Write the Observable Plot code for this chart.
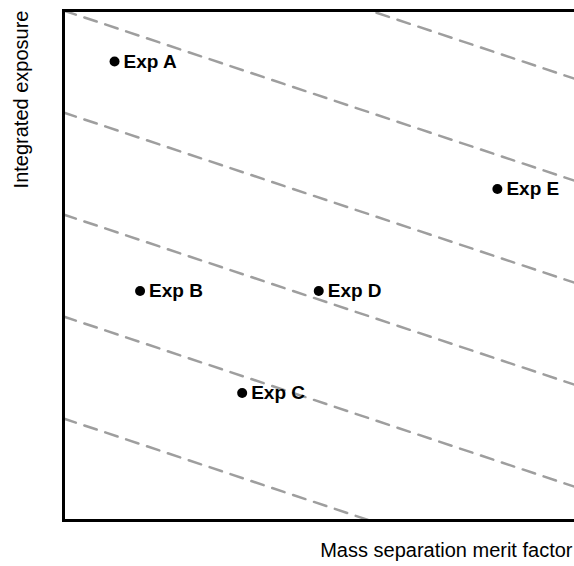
<!DOCTYPE html>
<html>
<head>
<meta charset="utf-8">
<script src="https://cdn.jsdelivr.net/npm/d3@7"></script>
<script src="https://cdn.jsdelivr.net/npm/@observablehq/plot@0.6"></script>
<style>
  html, body { margin: 0; padding: 0; overflow: hidden; background: white; }
  #chart { width: 599px; }
  #chart svg { max-width: none !important; width: 599px !important; height: 566px !important; }
</style>
</head>
<body>
<div id="chart"></div>
<script>
// Experiments (merit factor vs integrated exposure, arbitrary units)
const experiments = ["Exp A", "Exp B", "Exp C", "Exp D", "Exp E"];
const meritFactor = [1.0, 1.5, 3.5, 5.0, 8.5];
const exposure = [9.0, 4.5, 2.5, 4.5, 6.5];

// Iso-sensitivity guide lines: exposure = intercept + slope * merit
const guideIntercepts = [2, 4, 6, 8, 10, 12];
const guideSlope = -1 / 3;

const xDomain = [0, 10.5];
const yDomain = [0, 10];

const points = experiments.map((name, i) => ({name, x: meritFactor[i], y: exposure[i]}));
const guides = guideIntercepts.flatMap((c) =>
  xDomain.map((x) => ({c, x, y: c + guideSlope * x}))
);

const chart = Plot.plot({
  width: 599,
  height: 566,
  marginLeft: 63,
  marginRight: 0,
  marginTop: 10,
  marginBottom: 46,
  style: {fontFamily: "'Liberation Sans', Arial, Helvetica, sans-serif", background: "white", overflow: "visible"},
  x: {domain: xDomain, axis: null},
  y: {domain: yDomain, axis: null},
  marks: [
    Plot.line(guides, {x: "x", y: "y", z: "c", stroke: "#9e9e9e", strokeWidth: 2.5, strokeDasharray: "13,9", clip: true}),
    Plot.frame({stroke: "black", strokeWidth: 3}),
    Plot.dot(points, {x: "x", y: "y", r: 5, fill: "black"}),
    Plot.text(points, {x: "x", y: "y", text: "name", textAnchor: "start", dx: 9, fontSize: 19, fontWeight: "bold", fill: "black"}),
    Plot.text(["Mass separation merit factor"], {frameAnchor: "bottom-right", text: (d) => d, textAnchor: "end", dx: -27, dy: 36, fontSize: 20, fill: "black"}),
    Plot.text(["Integrated exposure"], {frameAnchor: "top-left", text: (d) => d, textAnchor: "end", rotate: -90, dx: -50, dy: 0, fontSize: 20, fill: "black"})
  ]
});
document.getElementById("chart").appendChild(chart);
</script>
</body>
</html>
